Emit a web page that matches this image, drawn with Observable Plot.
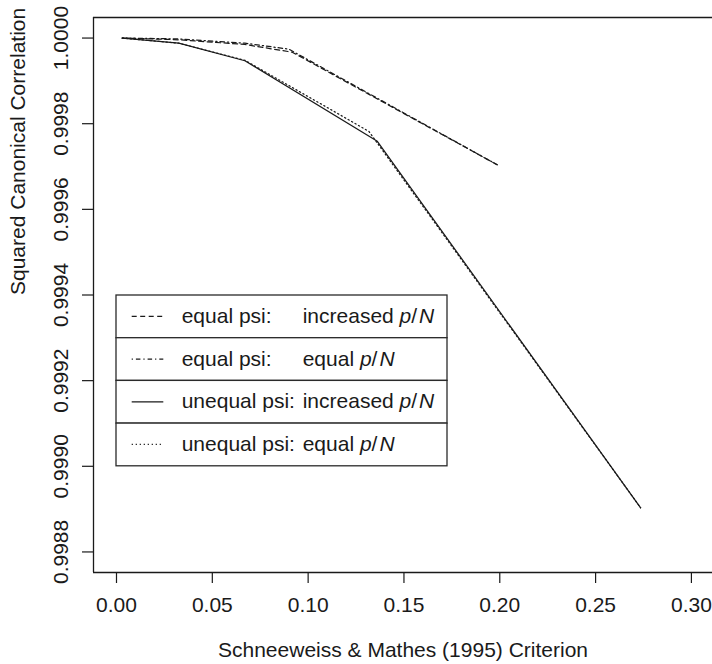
<!DOCTYPE html>
<html><head><meta charset="utf-8">
<script src="https://cdn.jsdelivr.net/npm/d3@7"></script>
<script src="https://cdn.jsdelivr.net/npm/@observablehq/plot@0.6"></script>
<style>
body{margin:0;background:#fff;}
#wrap{position:relative;width:712px;height:664px;}
#legend{position:absolute;left:0;top:0;pointer-events:none;}
</style></head><body><div id="wrap"></div>
<script>
// ---- data ----
const seriesNames = ["equal psi: increased p/N", "equal psi: equal p/N", "unequal psi: increased p/N", "unequal psi: equal p/N"];
const legendLeft = ["equal psi:", "equal psi:", "unequal psi:", "unequal psi:"];
const legendRight = ["increased", "equal", "increased", "equal"];

const critEqualPsiIncreased = [0.003, 0.0325, 0.067, 0.0917, 0.1987];
const corrEqualPsiIncreased = [1.000000, 0.999996, 0.999985, 0.999967, 0.999704];
const critEqualPsiEqual = [0.003, 0.0325, 0.067, 0.0900, 0.1987];
const corrEqualPsiEqual = [1.000000, 0.999998, 0.999988, 0.999974, 0.999704];
const critUnequalPsiIncreased = [0.003, 0.0325, 0.067, 0.1361, 0.2735];
const corrUnequalPsiIncreased = [1.000000, 0.999988, 0.999947, 0.999759, 0.998903];
const critUnequalPsiEqual = [0.003, 0.0325, 0.067, 0.1317, 0.2735];
const corrUnequalPsiEqual = [1.000000, 0.999988, 0.999948, 0.999782, 0.998903];

const xTicks = [0.00, 0.05, 0.10, 0.15, 0.20, 0.25, 0.30];
const yTicks = [0.9988, 0.9990, 0.9992, 0.9994, 0.9996, 0.9998, 1.0000];
const xTitle = "Schneeweiss & Mathes (1995) Criterion";
const yTitle = "Squared Canonical Correlation";

// ---- styling ----
const FONT = "'Liberation Sans', Arial, Helvetica, sans-serif";
const INK = "#1a1a1a";
const dashes = ["5,3.5", "1.2,3,4.5,3", null, "1.2,2.8"];
const xDomain = [-0.012, 0.311];
const yDomain = [0.998752, 1.000048];

const crits = [critEqualPsiIncreased, critEqualPsiEqual, critUnequalPsiIncreased, critUnequalPsiEqual];
const corrs = [corrEqualPsiIncreased, corrEqualPsiEqual, corrUnequalPsiIncreased, corrUnequalPsiEqual];
const series = seriesNames.map((name, i) => crits[i].map((c, j) => ({name, x: c, y: corrs[i][j]})));

const lineMarks = series.map((data, i) => Plot.line(data, {
  x: "x", y: "y", stroke: INK, strokeWidth: 1.25,
  strokeDasharray: dashes[i] || undefined, strokeLinejoin: "round"
}));

const chart = Plot.plot({
  width: 712, height: 664,
  marginLeft: 93, marginRight: 0, marginTop: 17, marginBottom: 92,
  style: {fontFamily: FONT, fontSize: "21px", color: INK, background: "white"},
  x: {domain: xDomain},
  y: {domain: yDomain},
  marks: [
    Plot.axisX({ticks: xTicks, tickFormat: d => d.toFixed(2), tickSize: 11, tickPadding: 14, label: null, strokeWidth: 1.2, fontSize: 21}),
    Plot.axisY({ticks: yTicks, tickFormat: d => d.toFixed(4), tickSize: 11, tickRotate: -90, tickPadding: 15, label: null, strokeWidth: 1.2, fontSize: 21}),
    Plot.ruleY(yDomain, {stroke: INK, strokeWidth: 1.3}),
    Plot.ruleX([xDomain[0]], {stroke: INK, strokeWidth: 1.3}),
    ...lineMarks,
    Plot.text([xTitle], {text: d => d, frameAnchor: "bottom", dy: 84, lineAnchor: "bottom", fontSize: 21, fill: INK}),
    Plot.text([yTitle], {text: d => d, frameAnchor: "left", dx: -69, rotate: -90, lineAnchor: "bottom", fontSize: 21, fill: INK})
  ]
});
document.getElementById("wrap").appendChild(chart);

// ---- legend (stacked boxed rows, inside the plot area) ----
const lg = d3.select("#wrap").append("svg").attr("id", "legend")
  .attr("width", 712).attr("height", 664)
  .style("font-family", FONT).style("font-size", "21px");
const rowTop = 295, rowH = 42.7, boxL = 116, boxR = 447;
seriesNames.forEach((name, i) => {
  const y0 = rowTop + i * rowH;
  const g = lg.append("g");
  g.append("rect").attr("x", boxL).attr("y", y0).attr("width", boxR - boxL).attr("height", rowH)
    .attr("fill", "white").attr("stroke", "#2a2a2a").attr("stroke-width", 1.3);
  g.append("line").attr("x1", 131.7).attr("x2", 163.3).attr("y1", y0 + rowH / 2).attr("y2", y0 + rowH / 2)
    .attr("stroke", INK).attr("stroke-width", 1.25).attr("stroke-dasharray", dashes[i]);
  g.append("text").attr("x", 181.7).attr("y", y0 + 28).attr("fill", INK).text(legendLeft[i]);
  const t = g.append("text").attr("x", 302.7).attr("y", y0 + 28).attr("fill", INK);
  t.append("tspan").text(legendRight[i] + " ");
  t.append("tspan").attr("font-style", "italic").text("p");
  t.append("tspan").text("/");
  t.append("tspan").attr("font-style", "italic").attr("dx", 2).text("N");
});
</script>
</body></html>
